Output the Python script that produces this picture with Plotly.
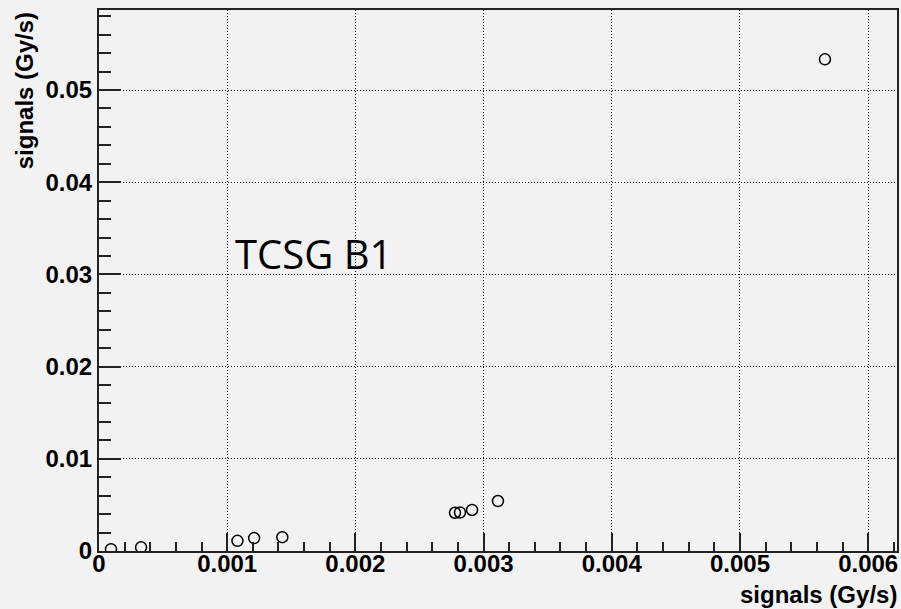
import plotly.graph_objects as go

# Data
x_signal = [0.0000936, 0.000328, 0.00108, 0.00121, 0.00143, 0.002777, 0.002816, 0.00291, 0.003112, 0.005663]
y_signal = [0.0002, 0.0004, 0.0011, 0.0014, 0.0015, 0.00415, 0.00418, 0.00445, 0.00542, 0.05333]

x_ticks = [0, 0.001, 0.002, 0.003, 0.004, 0.005, 0.006]
x_tick_labels = ["0", "0.001", "0.002", "0.003", "0.004", "0.005", "0.006"]
y_ticks = [0, 0.01, 0.02, 0.03, 0.04, 0.05]
y_tick_labels = ["0", "0.01", "0.02", "0.03", "0.04", "0.05"]

x_title = "signals (Gy/s)"
y_title = "signals (Gy/s)"
label_text = "TCSG B1"

bg = "#f2f2f2"
tick_font = dict(family="Liberation Sans, Arial, sans-serif", size=24, color="black")

fig = go.Figure()
fig.add_trace(go.Scatter(
    x=x_signal, y=y_signal, mode="markers",
    marker=dict(symbol="circle-open", size=11, color="black", line=dict(width=1.5, color="black")),
    showlegend=False,
))

axis_common = dict(
    showline=True, mirror=True, linecolor="#222", linewidth=2,
    ticks="inside", tickcolor="#222", tickwidth=2,
    showgrid=True, gridcolor="black", gridwidth=1, griddash="1px,2px",
    zeroline=False, tickfont=tick_font, automargin=False,
)

fig.update_xaxes(
    range=[0, 0.006225], tickvals=x_ticks, ticktext=["<b>" + t + "</b>" for t in x_tick_labels], ticklen=18,
    ticklabelstandoff=-10,
    minor=dict(ticks="inside", ticklen=9, dtick=0.0002, tick0=0, tickcolor="#222", tickwidth=1.5, showgrid=False),
    **axis_common,
)
fig.update_yaxes(
    range=[0, 0.05868], tickvals=y_ticks, ticktext=["<b>" + t + "</b>" for t in y_tick_labels], ticklen=22,
    minor=dict(ticks="inside", ticklen=12, dtick=0.002, tick0=0, tickcolor="#222", tickwidth=1.5, showgrid=False),
    **axis_common,
)

fig.add_annotation(
    x=1.002, y=-0.081, xref="paper", yref="paper", xanchor="right", yanchor="middle",
    text="<b>" + x_title + "</b>", showarrow=False,
    font=dict(family="Liberation Sans, Arial, sans-serif", size=24, color="black"),
)
fig.add_annotation(
    x=-0.093, y=1.0, xref="paper", yref="paper", xanchor="center", yanchor="top",
    text="<b>" + y_title + "</b>", textangle=-90, showarrow=False,
    font=dict(family="Liberation Sans, Arial, sans-serif", size=24, color="black"),
)
fig.add_annotation(
    x=0.001045, y=0.03232, xref="x", yref="y", xanchor="left", yanchor="middle",
    text=label_text, showarrow=False,
    font=dict(family="Open Sans, Noto Sans, sans-serif", size=40, color="black"),
)

fig.update_layout(
    width=901, height=609,
    margin=dict(l=99, r=4, t=10, b=58, autoexpand=False),
    paper_bgcolor=bg, plot_bgcolor=bg,
)

fig.write_html(
    "out.html",
    config={"displayModeBar": False},
    post_script="document.body.style.margin='0';document.body.style.background='#f2f2f2';",
)
